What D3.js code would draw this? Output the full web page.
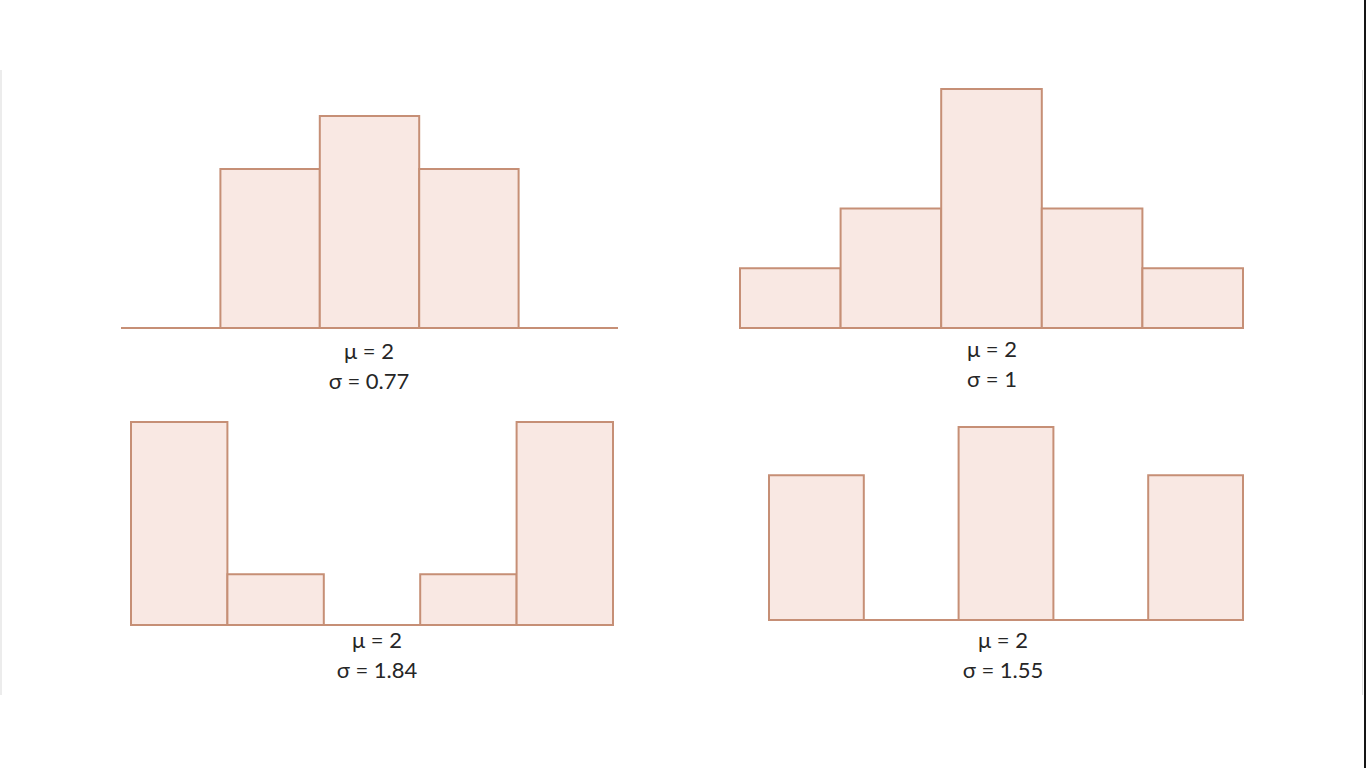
<!DOCTYPE html>
<html>
<head>
<meta charset="utf-8">
<script src="https://cdn.jsdelivr.net/npm/d3@7"></script>
<style>
  html, body { margin: 0; padding: 0; background: #ffffff; }
  svg { display: block; }
</style>
</head>
<body>
<svg id="chart" width="1366" height="768"></svg>
<script>
// ---- data ----
const bins = [0, 1, 2, 3, 4];
const countsA = [0, 3, 4, 3, 0];
const countsB = [1, 2, 4, 2, 1];
const countsC = [4, 1, 0, 1, 4];
const countsD = [3, 0, 4, 0, 3];
const muLabels = ["μ = 2", "μ = 2", "μ = 2", "μ = 2"];
const sigmaLabels = ["σ = 0.77", "σ = 1", "σ = 1.84", "σ = 1.55"];

// ---- layout ----
const panels = [
  { counts: countsA, x0: 121, x1: 618, base: 328, top: 116, lx: 369, ly: 359 },
  { counts: countsB, x0: 740, x1: 1243, base: 328, top: 89, lx: 992, ly: 357 },
  { counts: countsC, x0: 131, x1: 613, base: 625, top: 422, lx: 377, ly: 648 },
  { counts: countsD, x0: 769, x1: 1243, base: 620, top: 427, lx: 1003, ly: 648 }
];

const fillC = "#f9e8e3";
const strokeC = "#c68f76";

const svg = d3.select("#chart");
svg.append("rect").attr("width", 1366).attr("height", 768).attr("fill", "#ffffff");
// slide frame hints
svg.append("rect").attr("x", 0).attr("y", 70).attr("width", 2).attr("height", 625).attr("fill", "#ececec");
svg.append("rect").attr("x", 1362).attr("y", 70).attr("width", 1).attr("height", 625).attr("fill", "#e0e0e0");
svg.append("rect").attr("x", 1364).attr("y", 0).attr("width", 2).attr("height", 768).attr("fill", "#151515");

panels.forEach((p, i) => {
  const x = d3.scaleBand().domain(bins).range([p.x0, p.x1]).padding(0);
  const y = d3.scaleLinear().domain([0, d3.max(p.counts)]).range([p.base, p.top]);
  const g = svg.append("g");

  g.append("line")
    .attr("x1", p.x0).attr("x2", p.x1)
    .attr("y1", y(0)).attr("y2", y(0))
    .attr("stroke", strokeC).attr("stroke-width", 2);

  g.selectAll("rect.bar")
    .data(bins.map((b, j) => ({ b, c: p.counts[j] })).filter(d => d.c > 0))
    .enter().append("rect")
    .attr("class", "bar")
    .attr("x", d => x(d.b))
    .attr("y", d => y(d.c))
    .attr("width", x.bandwidth())
    .attr("height", d => y(0) - y(d.c))
    .attr("fill", fillC)
    .attr("stroke", strokeC)
    .attr("stroke-width", 2);

  g.append("text")
    .attr("x", p.lx).attr("y", p.ly)
    .attr("text-anchor", "middle")
    .attr("font-family", "Lato, 'Open Sans', sans-serif")
    .attr("font-size", 22)
    .attr("fill", "#262626")
    .text(muLabels[i]);
  g.append("text")
    .attr("x", p.lx).attr("y", p.ly + 30)
    .attr("text-anchor", "middle")
    .attr("font-family", "Lato, 'Open Sans', sans-serif")
    .attr("font-size", 22)
    .attr("fill", "#262626")
    .text(sigmaLabels[i]);
});
</script>
</body>
</html>
